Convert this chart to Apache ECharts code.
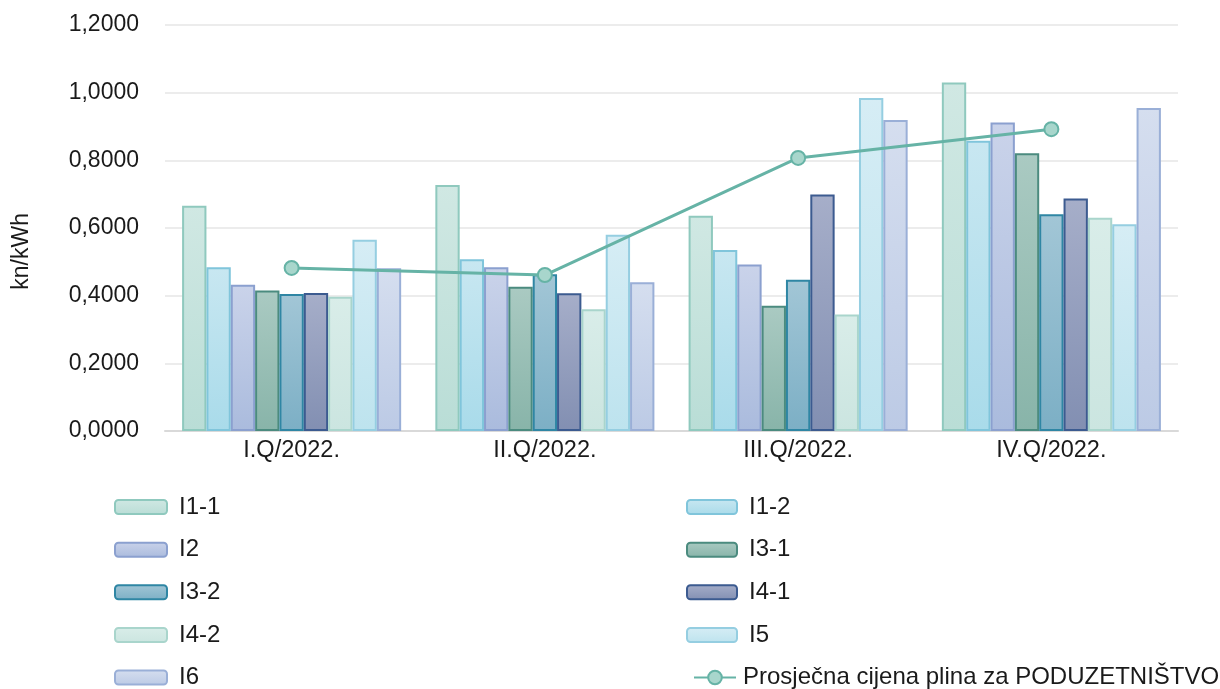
<!DOCTYPE html>
<html>
<head>
<meta charset="utf-8">
<script src="https://cdn.jsdelivr.net/npm/echarts@6/dist/echarts.min.js"></script>
<style>
html,body{margin:0;padding:0;background:#fff;}
#chart{width:1220px;height:689px;}
</style>
</head>
<body>
<div id="chart"></div>
<script>
const categories = ['I.Q/2022.', 'II.Q/2022.', 'III.Q/2022.', 'IV.Q/2022.'];
const seriesNames = ['I1-1', 'I1-2', 'I2', 'I3-1', 'I3-2', 'I4-1', 'I4-2', 'I5', 'I6'];
const vI1_1 = [0.666, 0.727, 0.636, 1.030];
const vI1_2 = [0.484, 0.508, 0.535, 0.858];
const vI2   = [0.432, 0.484, 0.492, 0.912];
const vI3_1 = [0.415, 0.426, 0.370, 0.821];
const vI3_2 = [0.405, 0.463, 0.447, 0.641];
const vI4_1 = [0.408, 0.407, 0.699, 0.687];
const vI4_2 = [0.397, 0.360, 0.344, 0.630];
const vI5   = [0.565, 0.580, 0.984, 0.611];
const vI6   = [0.481, 0.440, 0.919, 0.955];
const lineName = 'Prosječna cijena plina za PODUZETNIŠTVO';
const lineValues = [0.482, 0.461, 0.807, 0.892];
const yTicks = [0, 0.2, 0.4, 0.6, 0.8, 1.0, 1.2];

const barValues = [vI1_1, vI1_2, vI2, vI3_1, vI3_2, vI4_1, vI4_2, vI5, vI6];
const barColors = [
  ['#d0e8e3', '#b9ddd6', '#8fc9be'],
  ['#c8e7f1', '#a9dbea', '#80c5db'],
  ['#cad3ea', '#aabbdd', '#8ba0cf'],
  ['#aacac2', '#88b4a9', '#4b8b7f'],
  ['#a2c6d6', '#7cafc5', '#2f86a4'],
  ['#a6aec9', '#828fb2', '#3c5b90'],
  ['#d9ede9', '#cbe5e0', '#a9d5cc'],
  ['#d6edf5', '#bde3ee', '#95cee1'],
  ['#d5deef', '#bccae5', '#9aafd7']
];

const font = 'Liberation Sans, Arial, sans-serif';
const chart = echarts.init(document.getElementById('chart'));

const series = seriesNames.map((n, i) => ({
  name: n,
  type: 'bar',
  data: barValues[i],
  barGap: '0%',
  barCategoryGap: '13.5%',
  itemStyle: {
    color: new echarts.graphic.LinearGradient(0, 0, 0, 1, [
      {offset: 0, color: barColors[i][0]},
      {offset: 1, color: barColors[i][1]}
    ]),
    borderColor: barColors[i][2],
    borderWidth: 2
  }
}));
series.push({
  name: lineName,
  type: 'line',
  data: lineValues,
  z: 10,
  symbol: 'circle',
  symbolSize: 14,
  lineStyle: {color: '#66b3a6', width: 3},
  itemStyle: {color: '#a8d6cc', borderColor: '#66b3a6', borderWidth: 2}
});

// legend layout: two columns, five rows
const legendOrder = ['I1-1', 'I1-2', 'I2', 'I3-1', 'I3-2', 'I4-1', 'I4-2', 'I5', 'I6', lineName];
const rowCenters = [507, 549.7, 592.3, 635, 677.5];
const legends = legendOrder.map((name, k) => {
  const col = k % 2, row = Math.floor(k / 2);
  const isLine = name === lineName;
  const ih = isLine ? 17 : 14;
  return {
    orient: 'horizontal',
    left: col === 0 ? 114 : (isLine ? 693 : 686),
    top: rowCenters[row] - 12,
    padding: 0,
    itemWidth: col === 0 ? 52 : (isLine ? 42 : 50),
    itemHeight: ih,
    data: [name],
    selectedMode: false,
    textStyle: {fontFamily: font, fontSize: 24, color: '#1a1a1a', padding: [0, 0, 0, isLine ? 2 : 7]}
  };
});

chart.setOption({
  animation: false,
  backgroundColor: '#fff',
  grid: {left: 165, right: 42, top: 25, bottom: 258},
  legend: legends,
  xAxis: {
    type: 'category',
    data: categories,
    axisLine: {lineStyle: {color: '#d9d9d9', width: 2}},
    axisTick: {show: false},
    axisLabel: {fontFamily: font, fontSize: 23.5, color: '#1a1a1a', margin: 8}
  },
  yAxis: {
    type: 'value',
    min: 0, max: 1.2, interval: 0.2,
    axisLine: {show: false},
    axisTick: {show: false},
    splitLine: {lineStyle: {color: '#ececec', width: 2}},
    axisLabel: {fontFamily: font, fontSize: 23, color: '#1a1a1a', margin: 26,
      formatter: v => {
        const t = yTicks.find(x => Math.abs(x - v) < 1e-9);
        return (t !== undefined ? t : v).toFixed(4).replace('.', ',');
      }}
  },
  graphic: [{
    type: 'text', left: 10, top: 213, rotation: Math.PI / 2,
    style: {text: 'kn/kWh', font: '23px ' + font, fill: '#1a1a1a'}
  }],
  series: series
});
</script>
</body>
</html>
